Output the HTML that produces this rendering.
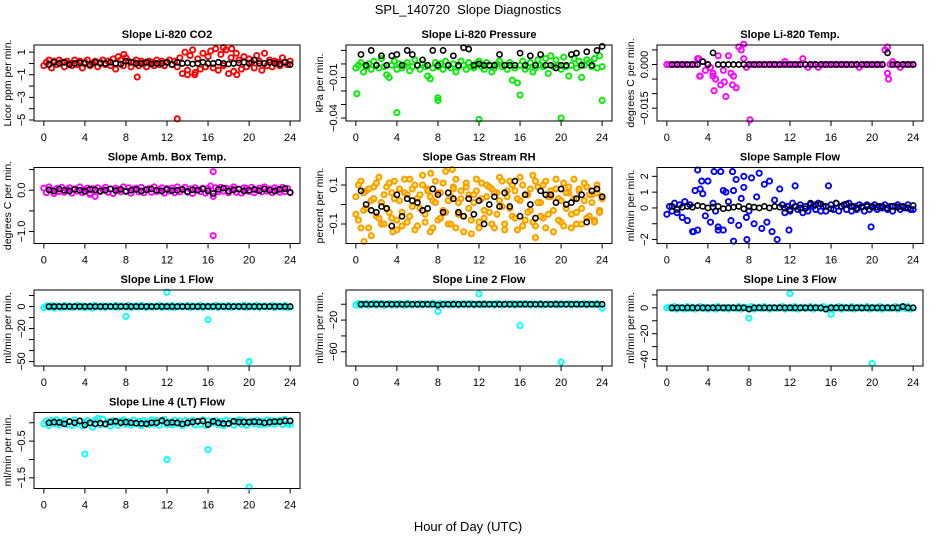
<!DOCTYPE html>
<html><head><meta charset="utf-8"><style>
html,body{margin:0;padding:0;background:#fff}
svg{display:block;font-family:"Liberation Sans",Arial,sans-serif}
</style></head><body>
<svg id="chart" width="936" height="540" viewBox="0 0 936 540" xmlns="http://www.w3.org/2000/svg">
<rect width="936" height="540" fill="#fff"/>
<text x="468" y="14" font-size="13" text-anchor="middle">SPL_140720&#160; Slope Diagnostics</text>
<text x="468" y="531" font-size="13" text-anchor="middle">Hour of Day (UTC)</text>
</svg>
<script>
const xTicks=[0,4,8,12,16,20,24];
// CO2
const co2Col=[-0.2,0.1,0.3,-0.4,0.2,-0.1,0.3,0.1,-0.3,0.2,0,-0.2,0.3,-0.1,0.2,-0.4,0.1,0.3,-0.2,0,0.2,-0.3,0.1,0.3,-0.1,0.2,-0.2,0.4,-0.5,0.6,0.3,-0.2,0.5,0.2,-0.3,0.1,0.3,-0.2,0.2,0,-0.3,0.2,0.1,-0.2,0.3,-0.1,0.2,-0.2,0.1,0.3,-0.1,0.2,-0.3,0.5,-0.9,1.0,-0.6,0.7,1.2,-0.8,0.4,-0.5,0.9,-0.3,0.6,1.1,-0.4,1.3,-0.6,0.8,-0.2,1.2,-0.9,0.5,-0.7,0.9,0.3,-0.5,0.6,-0.3,0.4,0.1,-0.4,0.7,0.2,-0.6,0.9,-0.2,0.3,-0.3,0.2,0.1,-0.2,0.5,0.1,-0.1,0.2];
const co2Out=[[9.1,-1.2],[13,-4.9],[14,-1.0],[18.8,-1.0],[7.8,0.8],[14.7,-1.0],[17.5,1.4],[18.3,1.3]];
const co2Blk=[-0.1,0.1,0,0.1,-0.1,0,0.05,0,-0.1,0.1,0,0,0.1,0,-0.05,0.2,0.1,0,0,0.1,-0.05,0,0,0.1,-0.1,0.1,0,0.05,-0.05,0,0.1,0,0,0.1,0,-0.05,0,0.05,0.1,0,0.3,0,0,0.1,0,-0.05,0.1,-0.1];
// Pressure
const prCol=[-0.003,-0.001,0.001,-0.006,-0.002,0,-0.004,0.002,-0.001,-0.003,0.004,-0.002,-0.008,-0.01,-0.001,0.002,-0.004,0,-0.003,-0.001,0.001,-0.005,-0.002,0.003,-0.001,-0.004,0,-0.002,-0.009,-0.011,-0.003,0.001,-0.002,0,-0.004,0.002,-0.001,-0.003,0,-0.006,-0.002,0.002,-0.001,-0.004,0.001,-0.002,-0.003,0,0.002,-0.002,-0.004,0.001,-0.001,-0.006,-0.003,0,0.002,-0.002,-0.001,-0.004,0.001,-0.012,-0.003,-0.014,-0.001,0.002,-0.004,-0.002,0.001,-0.006,-0.003,0.003,-0.001,-0.002,0.004,-0.007,0.006,-0.002,0.003,-0.001,-0.004,0.005,-0.002,-0.009,-0.001,0.004,-0.003,0.002,-0.01,-0.001,0.003,0.001,-0.002,0.004,-0.003,0.006,-0.002];
const prOut=[[0.1,-0.022],[4,-0.036],[8,-0.025],[8,-0.027],[12,-0.041],[16,-0.023],[20,-0.040],[24,-0.027]];
const prBlk=[0.007,-0.001,0.01,-0.001,0.006,-0.001,0.006,0.007,-0.001,0.01,0.007,-0.001,0.003,-0.001,0.01,-0.001,0.01,-0.001,0.006,-0.001,0.012,0.011,-0.001,0,-0.001,-0.001,-0.001,0.007,-0.001,-0.001,-0.001,0.008,-0.001,0.006,-0.001,0.007,-0.001,-0.001,-0.003,-0.001,-0.001,0.007,0.008,-0.001,0.009,-0.001,0.01,0.013];
// Temp
const tpCol=[0,0,0,0,0,0,0,0,0,0,0,0,0.002,-0.004,0.001,-0.002,0,-0.001,-0.003,-0.005,0.003,-0.007,-0.002,-0.011,0.003,-0.003,-0.004,-0.008,0.006,0.005,0.002,-0.001,0,0,0,0,0,0,0,0,0,0,0,0,0,0,0.001,0,0,0,0,0,0,0.002,0,-0.001,0,0,0,-0.001,0,0,0,0,0,0,0,0,0,0,0,0,0,0,0,-0.001,0,0,0,0,0,0,0,0,0,0.005,-0.003,0,0.001,0,0,-0.001,0,0,0,0,0];
const tpOut=[[4.5,-0.004],[4.6,-0.009],[5.6,-0.006],[6.4,-0.007],[8.1,-0.019],[7.5,0.007],[21.6,-0.005],[21.5,0.006],[3.1,0.002],[3.2,-0.004]];
const tpBlk=[0,0,0,0,0,0,0.001,0,0.004,0,0,0,0,0,0,0,0,0,0,0,0,0,0,0,0,0,0,0,0,0,0,0,0,0,0,0,0,0,0,0,0,0,0.004,0,0,0,0,0];
// Amb box temp
const abCol=[0.05,-0.06,0.08,0,-0.08,0.04,-0.03,0.07,-0.05,0.02,0.06,-0.07,0.03,-0.02,0.08,-0.06,0.01,0.05,-0.08,0.04,-0.15,0.06,-0.03,0.02,0.07,-0.05,0.03,-0.08,0.05,0.01,-0.04,0.08,-0.02,0.06,-0.07,0.03,0.05,-0.04,0.07,-0.06,0.02,0.04,-0.05,0.08,-0.03,0.01,0.06,-0.07,0.04,-0.02,0.05,-0.06,0.08,-0.04,0.02,0.07,-0.05,0.03,-0.08,0.06,0.01,-0.03,0.05,-0.07,0.04,0.1,-0.15,0.06,-0.04,0.07,-0.02,0.05,-0.06,0.03,0.08,-0.05,0.02,-0.07,0.06,0.04,-0.03,0.07,-0.06,0.01,0.05,-0.04,0.08,-0.02,0.03,-0.06,0.06,0.02,-0.05,0.07,-0.03,0.04,-0.06];
const abOut=[[16.5,0.45],[16.5,-1.1],[4.5,-0.1]];
const abBlk=[0.01,-0.02,0.03,0,-0.02,0.02,0,-0.03,0.02,0.01,-0.02,0,0.03,-0.01,0.02,-0.03,0,0.02,-0.02,0.01,0.03,0,-0.02,0.02,-0.01,0,0.02,-0.03,0.01,0,0.03,-0.02,-0.08,0.02,0.05,-0.02,0.01,0.03,-0.02,0,0.02,-0.01,0.03,0,-0.02,0.02,0.04,-0.05];
// RH
const rhColA=[0.04,-0.08,0.12,-0.03,0.07,-0.12,0.02,0.09,-0.06,0.14,-0.1,0.05,-0.02,0.11,-0.07,0.03,-0.13,0.08,-0.04,0.06,-0.09,0.13,-0.01,0.1,-0.11,0.05,0.15,-0.05,0.08,-0.14,0.02,0.12,-0.08,0.06,-0.03,0.17,-0.1,0.04,0.09,-0.12,0.01,0.07,-0.06,0.11,-0.02,-0.15,0.05,0.13,-0.09,0.03,-0.07,0.1,-0.04,0.08,-0.12,0.06,0.14,-0.01,-0.1,0.04,0.12,-0.06,0.07,-0.13,0.02,0.1,-0.08,0.05,-0.03,0.15,-0.11,0.09,0.01,-0.07,0.12,-0.05,0.04,-0.14,0.08,0.03,-0.09,0.11,-0.02,0.06,-0.12,0.13,-0.04,0.07,-0.1,0.02,0.09,-0.06,0.05,-0.08,0.1,-0.03,0.04];
const rhColB=[-0.05,0.1,-0.12,0.06,-0.02,0.08,-0.16,0.03,0.11,-0.07,0.01,-0.1,0.09,-0.04,0.06,0.12,-0.08,0.02,-0.11,0.13,0.05,-0.06,0.08,-0.13,0.03,-0.02,0.1,-0.09,0.07,0.04,-0.12,0.01,0.06,-0.07,0.11,-0.04,0.02,-0.1,0.08,0.13,-0.05,0.03,-0.14,0.09,0.05,-0.08,0.01,0.07,-0.12,0.11,-0.03,0.04,0.09,-0.1,0.06,-0.05,0.02,0.12,-0.13,0.07,-0.02,0.1,-0.07,0.03,0.14,-0.11,0.05,-0.04,0.08,-0.09,0.12,0.01,-0.06,0.1,-0.12,0.04,0.07,-0.03,0.13,-0.08,0.02,-0.11,0.06,0.09,-0.05,0.03,-0.1,0.08,-0.02,0.11,-0.07,0.05,0.01,-0.09,0.06,-0.04,0.03];
const rhOut=[[0.8,-0.19],[7.3,0.16],[9.4,0.18],[17.5,-0.17],[3.6,-0.14]];
const rhBlk=[0.07,-0.0,-0.03,-0.04,-0.01,-0.02,-0.11,0.05,-0.06,0.03,0.02,0.01,-0.03,-0.02,0.08,0.05,-0.04,0.06,0.03,-0.04,-0.06,0.03,-0.05,0.02,-0.1,0.0,0.04,-0.01,0.06,-0.01,0.12,-0.06,0.05,0.0,-0.07,0.07,0.05,0.05,0.01,0.08,0.0,0.01,0.03,0.05,-0.09,0.07,0.08,0.04];
// Sample flow
const sfCol=[-0.4,0.1,-0.2,0.3,-0.3,0.2,-0.6,0.4,-0.8,0.2,-1.5,1.1,-1.4,1.2,0.9,-0.5,1.7,-0.9,0.3,-0.2,-1.2,2.3,-1.4,1.0,0.4,-0.8,1.1,1.8,-1.1,0.6,1.3,-0.6,-0.2,1.9,-1.0,0.7,2.2,-1.3,1.5,-0.9,1.7,-1.5,0.5,-2.0,1.2,0.2,-0.3,0.1,-0.2,0.3,0.1,-0.1,0.2,-0.3,0.1,-0.2,0.2,0.1,-0.1,0.3,-0.2,0.1,-0.2,1.4,0.2,-0.1,0.3,-0.2,0.1,0.2,-0.1,0.3,-0.2,0.1,-0.1,0.2,0.1,-0.2,0.2,-0.1,0.1,0.2,-0.1,0.1,0,0.2,-0.1,0.1,-0.2,0.1,0.2,-0.1,0.1,0,0.2,-0.1,-0.1];
const sfOut=[[3,2.4],[4.6,2.3],[6.4,2.3],[7.5,2.0],[6.5,-2.1],[7.8,-2.0],[11.9,-1.4],[12.5,1.4],[19.9,-1.2],[2.6,-1.5],[5,-1.4],[3.4,1.7],[5.5,1.1]];
const sfBlk=[0.1,-0.1,0.05,0.1,0.05,0.15,0.1,0,0.05,0.1,-0.05,0,0.05,0.1,-0.05,0.1,0.05,0,0.1,0,0.1,0.05,0,-0.1,0.1,0,-0.05,0.3,0.2,0.25,0.1,-0.05,0.3,0.1,0.25,0.1,0,0.05,0.1,0.05,0.05,0.1,0,0.1,0.05,0.05,0,0.15];
// Line flows
const l1Col=[-1,0.5,-0.5,1,-1.5,0.5,0,-1,1,-0.5,0.5,-1,0,1,-0.5,0.5,-1,0,0.5,-1.5,1,0,-0.5,0.5,-1,0.5,0,-0.5,1,-1,0.5,0,-0.5,1,-1,0,0.5,-0.5,1,0,-1,0.5,0,-0.5,0.5,1,-1,0,0.5,-0.5,1,-1,0,0.5,-0.5,0,1,-1,0.5,0,-0.5,1,-1,0,0.5,-0.5,0,1,-1,0.5,0,-0.5,1,-1,0,0.5,-0.5,0,1,-1,0.5,0,-0.5,1,-1,0,0.5,-0.5,0,1,-1,0.5,0,-0.5,1,-1,-0.5];
const l1Out=[[12,13],[8,-9],[16,-12],[20,-50]];
const l1Blk=[0,0,0,0,0,0,0,0,0,0,0,0,0,0,0,0,0,0,0,0,0,0,0,0,0,0,0,0,0,0,0,0,0,0,0,0,0,0,0,0,0,0,0,0,0,0,0,0];
const l2Col=[-1,1,-1.5,0.5,1,-1,0,1.5,-1,0.5,1,-1.5,0,1,-1,0.5,-1,1,0,-1.5,1.5,0,-1,0.5,-0.5,1,-1,0.5,0,-1,1.5,-0.5,0,1,-1,0.5,0,-1,1,0.5,-1,0,1,-0.5,0.5,1,-1,0,0.5,-1,1,-0.5,0,0.5,-1,1,0,-1,0.5,0.5,-0.5,1,-1,0,0.5,-0.5,1,0,-1,0.5,0,-0.5,1,-1,0,0.5,-0.5,0,1,-1,0.5,0,-0.5,1,-1,0,0.5,-0.5,0,1,-1,0.5,0,-0.5,1,-1,-5];
const l2Out=[[12,13],[8,-9],[16,-27],[20,-73]];
const l2Blk=[0,0,0,0,0,0,0,0,0,0,0,0,0,0,0,-1,0,0,0,0,0,0,0,0,0,0,0,0,0,0,0,0,0,0,0,0,0,0,0,0,0,0,0,0,0,0,0,0];
const l3Col=[0,0.5,-0.5,1,-1,0.5,0,-1,1,-0.5,0.5,-1,0,1,-0.5,0.5,-1,0,0.5,-1,1,0,-0.5,0.5,-1,0.5,0,-0.5,1,-1,0.5,0,-0.5,1,-1,0,0.5,-0.5,1,0,-1,0.5,0,-0.5,0.5,1,-1,0,0.5,-0.5,1,-1,0,0.5,-0.5,0,1,-1,0.5,0,-0.5,1,-1,0,0.5,-0.5,0,1,-1,0.5,0,-0.5,1,-1,0,0.5,-0.5,0,1,-1,0.5,0,-0.5,1,-1,0,0.5,-0.5,0,1,-1,0.5,0,-0.5,1,-1,0];
const l3Out=[[12,11],[8,-8],[16,-5],[20,-43]];
const l3Blk=[0,0,0,0,0,0,0,0,0,0,0,0,0,0,0,-1,0,0,0,0,0,0,0,0,0,0,0,0,0,0,-1,0,0,0,0,0,0,0,0,0,0,0,0,0,0,1,0,0];
const l4Col=[-0.03,0.05,-0.08,0.06,-0.02,0.08,-0.06,0.02,0.07,-0.05,0.04,-0.07,0.08,-0.03,0.05,-0.08,0.02,0.06,-0.04,-0.12,0.07,0.12,-0.06,0.1,-0.05,0.03,-0.09,0.06,0.02,-0.07,0.05,0.08,-0.04,0.03,-0.06,0.07,-0.02,0.04,-0.08,0.06,0.01,-0.05,0.08,-0.03,0.06,-0.07,0.04,0.09,-0.05,0.02,-0.06,0.07,-0.03,0.05,-0.08,0.06,-0.02,0.03,0.07,-0.06,0.04,-0.04,0.08,-0.07,0.05,-0.03,0.02,0.06,-0.05,0.04,-0.08,0.07,-0.02,0.05,-0.06,0.03,0.08,-0.04,0.06,-0.07,0.02,0.05,-0.03,0.07,-0.06,0.04,-0.05,0.08,-0.02,0.06,-0.04,0.03,0.07,-0.05,0.09,-0.03,-0.05];
const l4Out=[[4,-0.85],[12,-1.0],[16,-0.73],[20,-1.75]];
const l4Blk=[0,0.02,0.01,-0.03,0.03,0,0.05,-0.06,0,-0.03,-0.01,-0.03,0.02,0.04,0,0.02,0,-0.01,-0.02,-0.03,0,0,0.06,0,0.01,0,-0.03,0,0.02,0.04,0.05,-0.05,0.04,0,-0.02,-0.02,0.04,0.02,0.02,0.02,0.03,0.02,0,0.02,0.03,0.03,0.05,0.05];

const panels=[
 {name:'co2',title:'Slope Li-820 CO2',ylab:'Licor ppm per min.',ymin:-5.09,ymax:1.63,ticks:[1,0,-1,-2,-3,-4,-5],labels:[[1,'1'],[-1,'\u22121'],[-3,'\u22123'],[-5,'\u22125']],color:'#ff0000',fill:'none',col:[co2Col],out:co2Out,blk:co2Blk},
 {name:'pressure',title:'Slope Li-820 Pressure',ylab:'kPa per min.',ymin:-0.0422,ymax:0.014,ticks:[0.01,0,-0.01,-0.02,-0.03,-0.04],labels:[[-0.01,'\u22120.01'],[-0.04,'\u22120.04']],color:'#00ee00',fill:'none',col:[prCol],out:prOut,blk:prBlk},
 {name:'temp',title:'Slope Li-820 Temp.',ylab:'degrees C per min.',ymin:-0.0194,ymax:0.0067,ticks:[0.005,0,-0.005,-0.01,-0.015],labels:[[0,'0.000'],[-0.015,'\u22120.015']],color:'#ff00ff',fill:'none',col:[tpCol],out:tpOut,blk:tpBlk},
 {name:'amb-box',title:'Slope Amb. Box Temp.',ylab:'degrees C per min.',ymin:-1.29,ymax:0.55,ticks:[0.5,0,-0.5,-1],labels:[[0,'0.0'],[-1,'\u22121.0']],color:'#ff00ff',fill:'none',col:[abCol],out:abOut,blk:abBlk},
 {name:'rh',title:'Slope Gas Stream RH',ylab:'percent per min.',ymin:-0.2,ymax:0.19,ticks:[0.1,0,-0.1],labels:[[0.1,'0.1'],[-0.1,'\u22120.1']],color:'#ff9900',fill:'rgba(255,230,0,0.6)',col:[rhColA,rhColB],out:rhOut,blk:rhBlk},
 {name:'sample-flow',title:'Slope Sample Flow',ylab:'ml/min per min.',ymin:-2.25,ymax:2.56,ticks:[2,1,0,-1,-2],labels:[[2,'2'],[1,'1'],[0,'0'],[-2,'\u22122']],color:'#0000ff',fill:'none',col:[sfCol],out:sfOut,blk:sfBlk},
 {name:'line1',title:'Slope Line 1 Flow',ylab:'ml/min per min.',ymin:-54,ymax:15,ticks:[10,0,-10,-20,-30,-40,-50],labels:[[0,'0'],[-20,'\u221220'],[-50,'\u221250']],color:'#00ffff',fill:'none',col:[l1Col],out:l1Out,blk:l1Blk},
 {name:'line2',title:'Slope Line 2 Flow',ylab:'ml/min per min.',ymin:-78,ymax:18,ticks:[0,-20,-40,-60],labels:[[-20,'\u221220'],[-60,'\u221260']],color:'#00ffff',fill:'none',col:[l2Col],out:l2Out,blk:l2Blk},
 {name:'line3',title:'Slope Line 3 Flow',ylab:'ml/min per min.',ymin:-45,ymax:13.8,ticks:[10,0,-10,-20,-30,-40],labels:[[0,'0'],[-20,'\u221220'],[-40,'\u221240']],color:'#00ffff',fill:'none',col:[l3Col],out:l3Out,blk:l3Blk},
 {name:'line4',title:'Slope Line 4 (LT) Flow',ylab:'ml/min per min.',ymin:-1.79,ymax:0.28,ticks:[0,-0.5,-1,-1.5],labels:[[-0.5,'\u22120.5'],[-1.5,'\u22121.5']],color:'#00ffff',fill:'none',col:[l4Col],out:l4Out,blk:l4Blk}
];
const svg=document.getElementById('chart');
const NS='http://www.w3.org/2000/svg';
const colLeft=[34,346,657],rowTop=[45,167.5,290,412.5],W=266,H=76;
function mk(tag,attrs,parent){const e=document.createElementNS(NS,tag);for(const k in attrs)e.setAttribute(k,attrs[k]);parent.appendChild(e);return e;}
panels.forEach((p,i)=>{
 const L=colLeft[i%3],T=rowTop[Math.floor(i/3)],B=T+H;
 const g=mk('g',{},svg);
 
 
 const xs=t=>L+(t+0.96)/25.92*W;
 const ys=v=>T+(p.ymax-v)/(p.ymax-p.ymin)*H;
 const tt=mk('text',{x:L+W/2,y:T-7,'font-size':11,'font-weight':'bold','text-anchor':'middle'},g);tt.textContent=p.title;
 
 
 const yl=mk('text',{x:0,y:0,'font-size':10.5,'text-anchor':'middle',transform:`translate(${L-23},${T+H/2}) rotate(-90)`},g);yl.textContent=p.ylab;
 
 
 const ax=mk('g',{stroke:'#000','stroke-width':1},g);
 
 
 p.ticks.forEach(v=>{mk('line',{x1:L,x2:L-5,y1:ys(v),y2:ys(v)},ax);});
 mk('line',{x1:L,x2:L,y1:ys(p.ticks[0]),y2:ys(p.ticks[p.ticks.length-1])},ax);
 p.labels.forEach(([v,s])=>{const t=mk('text',{x:0,y:0,'font-size':11,'text-anchor':'middle',stroke:'none',transform:`translate(${L-9},${ys(v)}) rotate(-90)`},ax);t.textContent=s;
   
   });
 const xa=mk('g',{stroke:'#000','stroke-width':1},g);
 
 
 mk('line',{x1:xs(0),x2:xs(24),y1:B,y2:B},xa);
 xTicks.forEach(t=>{mk('line',{x1:xs(t),x2:xs(t),y1:B,y2:B+5},xa);
   const tx=mk('text',{x:xs(t),y:B+20,'font-size':11,'text-anchor':'middle',stroke:'none'},xa);tx.textContent=t;
   
   });
 const marks=mk('g',{fill:'none'},g);
 
 
 p.col.forEach(arr=>{arr.forEach((v,k)=>{const t=k*24/(arr.length-1);
   const c=mk('circle',{cx:xs(t),cy:ys(v),r:2.6,stroke:p.color,fill:p.fill,'stroke-width':1.9},marks);
   
   });});
 p.out.forEach(([t,v])=>{const c=mk('circle',{cx:xs(t),cy:ys(v),r:2.6,stroke:p.color,fill:p.fill,'stroke-width':1.9},marks);
   
   });
 p.blk.forEach((v,k)=>{const t=(k+1)*0.5;
   const c=mk('circle',{cx:xs(t),cy:ys(v),r:2.6,stroke:'#000','stroke-width':1.6},marks);
   
   });
 const box=mk('rect',{x:L,y:T,width:W,height:H,fill:'none',stroke:'#000','stroke-width':1},g);
 
 
});
</script>
</body></html>
